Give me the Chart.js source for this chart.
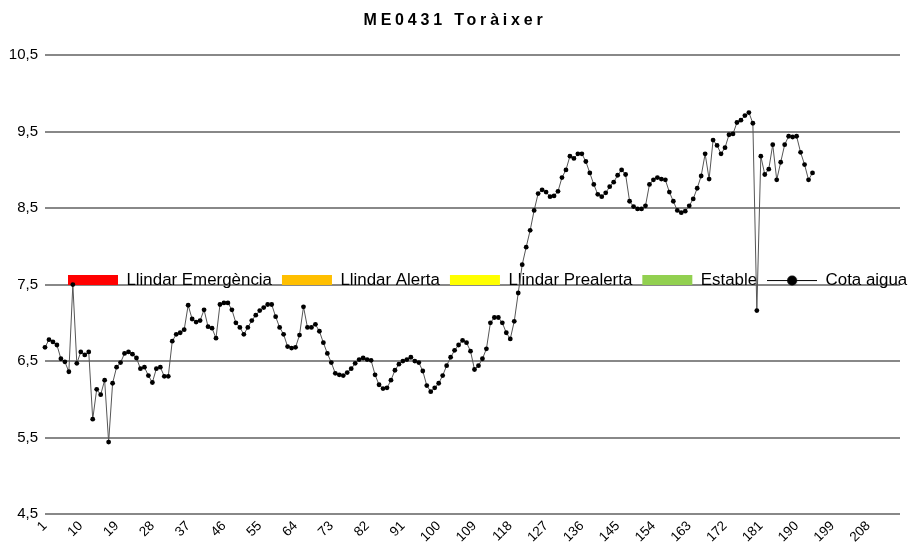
<!DOCTYPE html>
<html lang="ca">
<head>
<meta charset="utf-8">
<title>ME0431 Toràixer</title>
<script src="https://cdn.jsdelivr.net/npm/chart.js@4.4.1/dist/chart.umd.min.js"></script>
<style>
  html, body { margin: 0; padding: 0; background: #fff; }
  #wrap { width: 911px; height: 548px; }
</style>
</head>
<body>
<div id="wrap"><canvas id="grafic"></canvas></div>
<script>
const titol = "ME0431 Toràixer";

// llindars (only shown in the legend)
const nomsLlindars = ["Llindar Emergència", "Llindar Alerta", "Llindar Prealerta", "Estable"];
const colorsLlindars = ["#ff0000", "#ffbf00", "#ffff00", "#92d050"];

// x categories 1..216, a label every 9
const dies = Array.from({ length: 216 }, (_, i) => String(i + 1));

// cota aigua (m)
const cotaAigua = [
  6.68, 6.78, 6.75, 6.71, 6.53, 6.49, 6.36, 7.50, 6.47, 6.62,
  6.58, 6.62, 5.74, 6.13, 6.06, 6.25, 5.44, 6.21, 6.42, 6.48,
  6.60, 6.62, 6.59, 6.54, 6.40, 6.42, 6.31, 6.22, 6.40, 6.42,
  6.30, 6.30, 6.76, 6.85, 6.87, 6.91, 7.23, 7.05, 7.01, 7.03,
  7.17, 6.95, 6.93, 6.80, 7.24, 7.26, 7.26, 7.17, 7.00, 6.94,
  6.85, 6.94, 7.03, 7.10, 7.16, 7.20, 7.24, 7.24, 7.08, 6.94,
  6.85, 6.69, 6.67, 6.68, 6.84, 7.21, 6.94, 6.94, 6.98, 6.89,
  6.74, 6.60, 6.48, 6.34, 6.32, 6.31, 6.35, 6.40, 6.47, 6.52,
  6.54, 6.52, 6.51, 6.32, 6.19, 6.14, 6.15, 6.25, 6.38, 6.46,
  6.50, 6.52, 6.55, 6.50, 6.48, 6.37, 6.18, 6.10, 6.15, 6.21,
  6.31, 6.44, 6.55, 6.64, 6.71, 6.77, 6.74, 6.63, 6.39, 6.44,
  6.53, 6.66, 7.00, 7.07, 7.07, 7.00, 6.87, 6.79, 7.02, 7.39,
  7.76, 7.99, 8.21, 8.47, 8.69, 8.74, 8.71, 8.65, 8.66, 8.72,
  8.90, 9.00, 9.18, 9.15, 9.21, 9.21, 9.11, 8.96, 8.81, 8.68,
  8.65, 8.70, 8.78, 8.84, 8.93, 9.00, 8.94, 8.59, 8.52, 8.49,
  8.49, 8.53, 8.81, 8.87, 8.90, 8.88, 8.87, 8.71, 8.59, 8.47,
  8.44, 8.46, 8.53, 8.62, 8.76, 8.92, 9.21, 8.88, 9.39, 9.32,
  9.21, 9.29, 9.46, 9.47, 9.62, 9.65, 9.71, 9.75, 9.61, 7.16,
  9.18, 8.94, 9.01, 9.33, 8.87, 9.10, 9.33, 9.44, 9.43, 9.44,
  9.23, 9.07, 8.87, 8.96
];

Chart.defaults.font.family = "'Liberation Sans', Arial, sans-serif";
Chart.defaults.color = "#000";

// legend icon for the line series: a line with a dot
const iconaCota = document.createElement("canvas");
iconaCota.width = 50;
iconaCota.height = 12;
const ic = iconaCota.getContext("2d");
ic.strokeStyle = "#000";
ic.lineWidth = 1;
ic.beginPath();
ic.moveTo(0, 6.5);
ic.lineTo(50, 6.5);
ic.stroke();
ic.beginPath();
ic.arc(25, 6.5, 5, 0, Math.PI * 2);
ic.fillStyle = "#000";
ic.fill();

// legend sits on top of the plot (on the 7,5 line), title is letter spaced
const legendaAlMig = {
  id: "legendaAlMig",
  beforeUpdate(chart) {
    const lg = chart.legend;
    if (lg && !lg._senseAlcada) {
      const fitOriginal = lg.fit.bind(lg);
      lg.fit = function () {
        fitOriginal();
        this.height = 0; // take no room in the layout
      };
      lg._senseAlcada = true;
    }
    const tb = chart.titleBlock;
    if (tb && !tb._espaiat) {
      const drawOriginal = tb.draw.bind(tb);
      tb.draw = function () {
        const c = this.ctx;
        c.save();
        c.letterSpacing = "3.8px";
        c.translate(5, 0);
        drawOriginal();
        c.restore();
      };
      tb._espaiat = true;
    }
  },
  beforeDraw(chart) {
    const lg = chart.legend;
    const y = chart.scales.y.getPixelForValue(7.5);
    lg.top = y - 23;
    lg.bottom = lg.top + 60;
    lg.left = 58;
    lg.right = chart.width + 100;
  }
};

const datasets = nomsLlindars.map((nom, i) => ({
  label: nom,
  data: [],
  backgroundColor: colorsLlindars[i],
  borderColor: colorsLlindars[i],
  borderWidth: 0,
  pointStyle: "rect"
}));

datasets.push({
  label: "Cota aigua",
  data: cotaAigua,
  borderColor: "#555",
  borderWidth: 1,
  pointRadius: 2.4,
  pointBackgroundColor: "#000",
  pointBorderWidth: 0,
  tension: 0,
  fill: false
});

new Chart(document.getElementById("grafic"), {
  type: "line",
  data: { labels: dies, datasets: datasets },
  plugins: [legendaAlMig],
  options: {
    responsive: true,
    maintainAspectRatio: false,
    animation: false,
    events: [],
    layout: { padding: { left: 0, right: 11, top: 0, bottom: 0 } },
    plugins: {
      title: {
        display: true,
        text: titol,
        color: "#000",
        font: { size: 16, weight: "bold" },
        padding: { top: 11, bottom: 25 }
      },
      legend: {
        display: true,
        position: "top",
        align: "start",
        labels: {
          usePointStyle: true,
          pointStyleWidth: 50,
          boxHeight: 10,
          padding: 10,
          color: "#000",
          font: { size: 16.9 },
          generateLabels(chart) {
            const items = Chart.defaults.plugins.legend.labels.generateLabels(chart);
            return items.map((it, i) => ({
              ...it,
              pointStyle: i === items.length - 1 ? iconaCota : "rect",
              lineWidth: 0
            }));
          }
        }
      },
      tooltip: { enabled: false }
    },
    scales: {
      x: {
        type: "category",
        offset: false,
        grid: { display: false, drawTicks: false },
        border: { display: false },
        ticks: {
          autoSkip: false,
          minRotation: 45,
          maxRotation: 45,
          padding: 4,
          color: "#000",
          font: { size: 13.5 },
          callback: (v, i) => (i % 9 === 0 ? dies[i] : "")
        },
        afterFit(s) {
          s.height = 34;
          s.paddingRight = 0;
        }
      },
      y: {
        min: 4.5,
        max: 10.5,
        grid: { color: "#888", lineWidth: 2, drawTicks: false },
        border: { display: false },
        ticks: {
          stepSize: 1,
          padding: 7,
          color: "#000",
          font: { size: 15 },
          callback: (v) => v.toFixed(1).replace(".", ",")
        },
        afterFit(s) { s.width = 45; }
      }
    }
  }
});
</script>
</body>
</html>
